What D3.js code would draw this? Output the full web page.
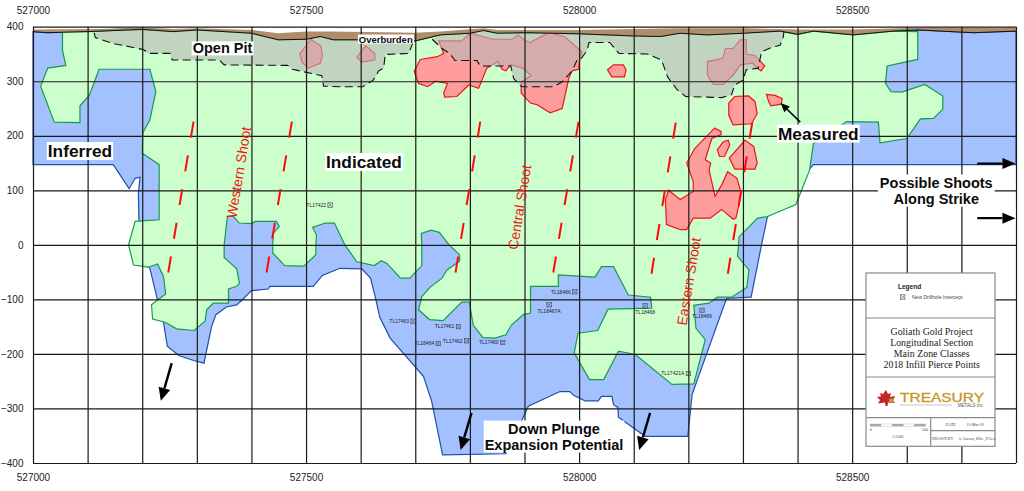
<!DOCTYPE html>
<html>
<head>
<meta charset="utf-8">
<script src="https://d3js.org/d3.v7.min.js"></script>
<style>
  body { margin: 0; background: #fff; }
  svg { display: block; font-family: "Liberation Sans", Arial, sans-serif; }
  .axis-label text { font-size: 10px; fill: #222; }
  .axis-label path, .axis-label line { display: none; }
</style>
</head>
<body>
<div id="chart"></div>
<script>
const xTickLabels = [527000, 527500, 528000, 528500];
const yTickLabels = [400, 300, 200, 100, 0, -100, -200, -300, -400];
const xGridValues = [527000, 527100, 527200, 527300, 527400, 527500, 527600, 527700, 527800, 527900,
    528000, 528100, 528200, 528300, 528400, 528500, 528600, 528700, 528800];

// Top of overburden and the bedrock surface under it
const overburdenTop = [[527000,395],[527123,396],[527200,399],[527257,396],[527300,397],[527400,394],[527449,388],
    [527500,391],[527550,391],[527700,389],[527746,391],[527825,397],[527850,394],[528000,394],[528185,397],
    [528301,397],[528400,395],[528502,395],[528621,398],[528800,398]];
const surface = [[527000,391],[527025,389],[527100,391],[527200,395],[527257,391],[527300,394],[527400,388],[527449,376],
    [527500,377],[527526,382],[527550,376],[527593,376],[527700,374],[527746,385],[527800,388],[527825,393],[527850,388],
    [527901,389],[528000,387],[528100,383],[528149,382],[528185,388],[528234,385],[528301,388],[528368,392],[528400,386],
    [528429,392],[528502,385],[528575,392],[528621,394],[528722,389],[528800,392]];

// Inferred: lower boundary only, the top is closed along the surface
const inferredEdge = [[527000,147],[527147,147],[527176,103],[527187,122],[527196,124],[527193,95],[527194,43],[527211,-41],
    [527214,-43],[527228,-101],[527239,-143],[527246,-186],[527267,-203],[527294,-212],[527313,-217],[527327,-150],
    [527335,-128],[527354,-114],[527373,-110],[527382,-102],[527400,-84],[527431,-81],[527434,-76],[527513,-76],[527530,-56],
    [527562,-43],[527602,-44],[527618,-61],[527628,-101],[527635,-133],[527654,-171],[527715,-241],[527730,-287],[527750,-385],
    [527866,-383],[527895,-322],[527907,-296],[527965,-269],[527983,-269],[527990,-276],[528011,-286],[528035,-286],
    [528041,-278],[528060,-278],[528063,-293],[528071,-298],[528072,-316],[528121,-351],[528199,-351],[528207,-274],
    [528270,-98],[528315,-96],[528334,0],[528345,52],[528429,147],[528800,147]];

// Indicated: same idea
const indicatedEdge = [[527054,391],[527054,357],[527060,329],[527027,324],[527014,291],[527039,225],[527086,224],[527086,255],
    [527103,274],[527121,322],[527214,322],[527225,281],[527214,229],[527201,205],[527200,168],[527231,147],[527231,46],
    [527187,43],[527175,0],[527184,-37],[527211,-41],[527228,-35],[527239,-58],[527243,-90],[527228,-101],[527217,-110],
    [527219,-136],[527242,-142],[527263,-154],[527295,-157],[527315,-140],[527318,-119],[527330,-107],[527358,-107],
    [527358,-81],[527373,-76],[527378,-70],[527373,-44],[527350,-23],[527350,0],[527356,52],[527367,52],[527378,40],
    [527400,39],[527407,43],[527446,43],[527451,34],[527440,21],[527439,0],[527439,-15],[527461,-38],[527496,-39],
    [527518,-18],[527518,0],[527519,18],[527512,32],[527535,40],[527552,40],[527571,0],[527593,-31],[527625,-38],
    [527638,-29],[527648,-34],[527673,-61],[527690,-61],[527712,-38],[527712,0],[527711,21],[527729,27],[527744,23],
    [527762,0],[527781,-18],[527781,-30],[527758,-46],[527749,-61],[527727,-78],[527712,-95],[527706,-119],[527726,-137],
    [527751,-139],[527785,-105],[527799,-105],[527806,-147],[527824,-170],[527846,-171],[527866,-165],[527876,-147],
    [527898,-128],[527911,-125],[527911,-76],[527962,-76],[527962,-55],[528029,-59],[528041,-40],[528063,-40],[528090,-92],
    [528131,-96],[528133,-116],[528053,-118],[528034,-157],[527998,-162],[527991,-198],[528019,-247],[528045,-247],
    [528072,-195],[528103,-201],[528170,-256],[528210,-255],[528231,-174],[528214,-153],[528210,-111],[528238,-107],
    [528253,-96],[528279,-96],[528307,-78],[528311,-46],[528290,-21],[528292,0],[528293,15],[528327,49],[528345,52],
    [528397,74],[528422,137],[528429,186],[528490,226],[528548,225],[528551,187],[528600,195],[528625,231],[528649,232],
    [528666,249],[528666,273],[528633,294],[528591,280],[528571,281],[528561,296],[528564,328],[528620,340],[528620,391]];

// Measured blocks
const measuredBlocks = [
    [[527509,377],[527527,365],[527530,348],[527526,333],[527504,324],[527492,336],[527489,351]],
    [[527609,365],[527626,351],[527626,339],[527602,335],[527593,344]],
    [[527743,374],[527785,374],[527801,388],[527841,377],[527877,377],[527888,385],[527902,374],[527910,371],[527944,389],
     [527973,382],[528005,354],[528001,339],[527999,322],[527987,319],[527981,305],[527969,250],[527947,242],[527923,257],
     [527911,260],[527894,278],[527894,299],[527912,310],[527897,324],[527875,330],[527866,319],[527859,322],[527851,336],
     [527831,324],[527816,287],[527798,293],[527776,272],[527754,271],[527752,279],[527759,296],[527737,300],[527723,290],
     [527706,296],[527698,318],[527709,340],[527740,345],[527752,351]],
    [[528052,321],[528063,330],[528081,330],[528086,321],[528083,308],[528060,308]],
    [[528295,376],[528306,376],[528306,350],[528322,347],[528340,328],[528333,319],[528326,324],[528318,333],[528295,330],
     [528282,311],[528264,294],[528246,294],[528235,311],[528235,336],[528263,342],[528268,360],[528282,360]],
    [[528285,272],[528310,273],[528322,263],[528326,241],[528316,222],[528282,220],[528274,238],[528274,260]],
    [[528343,276],[528359,274],[528372,268],[528370,258],[528351,255],[528347,263]],
    [[528264,189],[528273,192],[528276,183],[528266,162],[528257,162],[528253,174]],
    [[528304,192],[528320,180],[528326,150],[528322,139],[528285,139],[528275,159]],
    [[528248,214],[528260,208],[528260,202],[528243,195],[528231,156],[528241,150],[528238,137],[528249,89],[528261,110],
     [528272,134],[528289,122],[528296,98],[528292,70],[528287,49],[528282,47],[528261,65],[528240,49],[528209,49],[528197,28],
     [528185,28],[528160,37],[528158,83],[528164,100],[528185,83],[528209,98],[528209,116],[528197,150],[528212,177]]
];

// Open pit floors (dashed), closed along the surface
const pitWest = [[527112,389],[527114,380],[527147,369],[527184,362],[527202,358],[527212,351],[527251,351],[527255,339],
    [527341,339],[527350,330],[527466,329],[527475,322],[527529,310],[527532,291],[527562,290],[527604,290],[527623,302],
    [527633,319],[527642,324],[527645,349],[527688,351],[527697,374]];
const pitEast = [[527731,377],[527749,360],[527763,351],[527773,338],[527813,338],[527819,328],[527875,328],[527880,305],
    [527895,290],[527953,290],[527969,299],[527987,319],[527996,338],[528002,339],[528015,357],[528018,371],[528056,371],
    [528073,351],[528125,350],[528151,339],[528162,308],[528179,285],[528195,272],[528261,270],[528279,275],[528285,293],
    [528300,302],[528306,321],[528328,324],[528334,354],[528353,362],[528368,366],[528374,382],[528375,391]];

// Shoot axes, top and bottom of each dashed line
const shootAxes = [
    [[527294,226],[527247,-55]],
    [[527474,226],[527427,-55]],
    [[527819,226],[527773,-55]],
    [[527999,226],[527952,-55]],
    [[528177,224],[528132,-56]],
    [[528317,224],[528272,-55]]
];

// Drillhole pierce points
const holeNames = ["TL17422","TL17463","TL17461","TL18464","TL17462","TL17460","TL18466","TL18467A","TL18468","TL18469","TL17421A"];
const holeX = [527544,527696,527779,527742,527794,527860,527992,527945,528121,528225,528200];
const holeY = [73,-140,-150,-181,-176,-179,-86,-110,-112,-120,-236];
const holesLabelledBelow = ["TL18467A","TL18468","TL18469"];

const titleLines = ["Goliath Gold Project", "Longitudinal Section", "Main Zone Classes", "2018 Infill Pierce Points"];

// Scales
const width = 1024, height = 491;
const x = d3.scaleLinear().domain([527000, 528800]).range([33, 1016]);
const y = d3.scaleLinear().domain([400, -400]).range([26.7, 463]);

const svg = d3.select("#chart").append("svg").attr("width", width).attr("height", height);

const line = d3.line().x(d => x(d[0])).y(d => y(d[1]));
const closed = d3.line().x(d => x(d[0])).y(d => y(d[1])).curve(d3.curveLinearClosed);

// Surface points between two eastings, right to left, for closing the tops
const surfaceBack = (from, to) => surface.filter(d => d[0] >= from && d[0] <= to).reverse();

// Inferred
svg.append("path")
    .attr("d", closed(inferredEdge.concat(surfaceBack(527000, 528800))))
    .attr("fill", "#a3c0ff").attr("stroke", "#1f4fa8").attr("stroke-width", 1.2);

// Indicated
svg.append("path")
    .attr("d", closed(indicatedEdge.concat(surfaceBack(527055, 528619))))
    .attr("fill", "#ccffcc").attr("stroke", "#149c4a").attr("stroke-width", 1.2);

// Measured
svg.selectAll(".measured").data(measuredBlocks).enter().append("path")
    .attr("class", "measured")
    .attr("d", d => closed(d))
    .attr("fill", "#ff9c9c").attr("stroke", "#f01414").attr("stroke-width", 1.2);

// Pits sit on top of the blocks and wash them out
[pitWest, pitEast].forEach(floor => {
    const from = floor[0][0], to = floor[floor.length - 1][0];
    svg.append("path")
        .attr("d", closed(floor.concat(surfaceBack(from, to))))
        .attr("fill", "#b7b7b7").attr("fill-opacity", 0.6);
    svg.append("path")
        .attr("d", line(floor))
        .attr("fill", "none").attr("stroke", "#111").attr("stroke-width", 1.1)
        .attr("stroke-dasharray", "8 4.5");
});

// Overburden strip
svg.append("path")
    .attr("d", closed(overburdenTop.concat(surface.slice().reverse())))
    .attr("fill", "#b08c68");
svg.append("path").attr("d", line(surface))
    .attr("fill", "none").attr("stroke", "#111").attr("stroke-width", 1);

// Grid, drawn as long axis ticks
const gridX = d3.axisBottom(x).tickValues(xGridValues).tickSize(y(-400) - y(400)).tickFormat("");
const gridY = d3.axisLeft(y).tickValues(yTickLabels).tickSize(x(528800) - x(527000)).tickFormat("");
svg.append("g").attr("transform", `translate(0,${y(400)})`).call(gridX)
    .call(g => g.select(".domain").remove())
    .selectAll("line").attr("stroke", "#1a1a1a").attr("stroke-width", 1.2);
svg.append("g").attr("transform", `translate(${x(528800)},0)`).call(gridY)
    .call(g => g.select(".domain").remove())
    .selectAll("line").attr("stroke", "#1a1a1a").attr("stroke-width", 1.2);

// Axis labels
const xLabels = d3.axisTop(x).tickValues(xTickLabels).tickSize(0).tickPadding(0).tickFormat(d3.format("d"));
svg.append("g").attr("class", "axis-label").attr("transform", "translate(0,11)").call(xLabels)
    .selectAll("text").attr("dy", "0.32em");
svg.append("g").attr("class", "axis-label").attr("transform", "translate(0,478)").call(xLabels)
    .selectAll("text").attr("dy", "0.32em");
svg.append("g").attr("class", "axis-label").attr("transform", "translate(23.5,0)")
    .call(d3.axisLeft(y).tickValues(yTickLabels).tickSize(0).tickPadding(0).tickFormat(d3.format("d")));

// Shoot axes
svg.selectAll(".shoot").data(shootAxes).enter().append("path")
    .attr("class", "shoot")
    .attr("d", d => line(d))
    .attr("stroke", "#ff0a0a").attr("stroke-width", 2).attr("stroke-dasharray", "16.2 18");

const shootLabel = (text, px, py) => svg.append("text")
    .attr("transform", `translate(${px},${py}) rotate(-80.7)`)
    .attr("text-anchor", "middle").attr("dy", "0.35em")
    .attr("font-size", 14).attr("fill", "#f01414")
    .text(text);
shootLabel("Western Shoot", x(527377), y(133));
shootLabel("Central Shoot", x(527891), y(69));
shootLabel("Eastern Shoot", x(528201), y(-67));

// Drillholes
function holeMarker(g, px, py) {
    const s = 2.2;
    g.append("rect").attr("x", px - s).attr("y", py - s).attr("width", 2 * s).attr("height", 2 * s)
        .attr("fill", "none").attr("stroke", "#333").attr("stroke-width", 0.5);
    g.append("path").attr("d", `M${px - s},${py - s}L${px + s},${py + s}M${px + s},${py - s}L${px - s},${py + s}`)
        .attr("stroke", "#333").attr("stroke-width", 0.5);
}
const holes = svg.append("g");
holeNames.forEach((name, i) => {
    const px = x(holeX[i]), py = y(holeY[i]);
    holeMarker(holes, px, py);
    const below = holesLabelledBelow.includes(name);
    holes.append("text")
        .attr("x", below ? px : px - 4)
        .attr("y", below ? py + 8 : py + 1.8)
        .attr("text-anchor", below ? "middle" : "end")
        .attr("font-size", 5).attr("fill", "#222")
        .text(name);
});

// Bold labels on white boxes
function boxedLabel(lines, px, py, size, lineGap, padX, padY) {
    const g = svg.append("g");
    const box = g.append("rect").attr("fill", "#fff");
    const t = g.append("text").attr("font-weight", "bold").attr("font-size", size)
        .attr("fill", "#0b0b0b").attr("text-anchor", "middle");
    lines.forEach((s, i) => t.append("tspan").attr("x", px).attr("y", py + i * lineGap).text(s));
    const b = t.node().getBBox();
    box.attr("x", b.x - padX).attr("y", b.y - padY).attr("width", b.width + 2 * padX).attr("height", b.height + 2 * padY);
}
boxedLabel(["Open Pit"], x(527347), y(351), 14.5, 0, 1, -1);
boxedLabel(["Overburden"], x(527646), y(371), 9.5, 0, 1, -1);
boxedLabel(["Inferred"], x(527086), y(161), 17.3, 0, 1, -1);
boxedLabel(["Indicated"], x(527606), y(141), 17.3, 0, 1, -1);
boxedLabel(["Measured"], x(528438), y(193), 17.3, 0, 1, -1);
boxedLabel(["Possible Shoots", "Along Strike"], x(528654), y(105), 14.5, 16, 2, 0);
boxedLabel(["Down Plunge", "Expansion Potential"], x(527954), y(-346), 14.5, 16, 1, 0);

// Arrows
function arrow(x0, y0, x1, y1, w, headLen, headW) {
    const a = Math.atan2(y(y1) - y(y0), x(x1) - x(x0));
    const ex = x(x1), ey = y(y1);
    const bx = ex - headLen * Math.cos(a), by = ey - headLen * Math.sin(a);
    const nx = -Math.sin(a) * headW / 2, ny = Math.cos(a) * headW / 2;
    svg.append("line").attr("x1", x(x0)).attr("y1", y(y0)).attr("x2", bx).attr("y2", by)
        .attr("stroke", "#000").attr("stroke-width", w);
    svg.append("polygon")
        .attr("points", `${ex},${ey} ${bx + nx},${by + ny} ${bx - nx},${by - ny}`)
        .attr("fill", "#000");
}
arrow(528405, 225, 528369, 260, 1.5, 9, 8);
arrow(528729, 149, 528799, 149, 2.2, 13, 11);
arrow(528729, 49, 528799, 49, 2.2, 13, 11);
arrow(527254, -217, 527234, -286, 2.4, 13, 12);
arrow(527803, -308, 527783, -376, 2.4, 13, 12);
arrow(528130, -308, 528110, -376, 2.4, 13, 12);

// Title block in the lower right corner
const block = svg.append("g");
block.append("rect").attr("x", 866).attr("y", 273).attr("width", 129).attr("height", 173.3)
    .attr("fill", "#fff").attr("stroke", "#8a8a8a").attr("stroke-width", 1.2);
[[866, 318, 995, 318], [866, 377, 995, 377], [866, 417.7, 995, 417.7], [930.7, 417.7, 930.7, 446.3], [930.7, 430.7, 995, 430.7]]
    .forEach(l => block.append("line")
        .attr("x1", l[0]).attr("y1", l[1]).attr("x2", l[2]).attr("y2", l[3])
        .attr("stroke", "#8a8a8a").attr("stroke-width", 1.2));

block.append("text").attr("x", 898).attr("y", 289).attr("font-size", 6.5).attr("font-weight", "bold").attr("fill", "#222").text("Legend");
holeMarker(block, 902.7, 297);
block.append("text").attr("x", 912).attr("y", 299).attr("font-size", 5).attr("fill", "#444").text("New Drillhole Intercept");

block.selectAll(".title").data(titleLines).enter().append("text")
    .attr("class", "title")
    .attr("x", 931.7).attr("y", (d, i) => 335 + i * 10.85)
    .attr("text-anchor", "middle")
    .attr("font-family", "'Liberation Serif', serif").attr("font-size", 9.9).attr("fill", "#222")
    .text(d => d);

// Logo: leaf with the gold corner, then the name
block.append("path")
    .attr("d", "M886,390 L888,394 L891,393 L890,397 L895,396 L893,400 L895,403 L888,402.5 L887.5,406 L885.5,406 L885,402.5 L878,403.5 L880,400 L877,397 L881,396.5 L880,393 L883,394 Z")
    .attr("fill", "#c2262e");
block.append("path").attr("d", "M889,398.5 L895,398.5 L893,400.5 L895,402.5 L889,402.5 Z").attr("fill", "#c8962a");
block.append("text").attr("x", 900).attr("y", 401.5)
    .attr("font-size", 13).attr("fill", "#c8962a").attr("stroke", "#c8962a").attr("stroke-width", 0.3)
    .attr("textLength", 84).attr("lengthAdjust", "spacingAndGlyphs")
    .text("TREASURY");
block.append("line").attr("x1", 900).attr("y1", 405).attr("x2", 952).attr("y2", 405).attr("stroke", "#aaa").attr("stroke-width", 0.7);
block.append("text").attr("x", 984).attr("y", 407).attr("text-anchor", "end").attr("font-size", 4.5).attr("fill", "#555").text("METALS Inc.");

// Scale bar
[0, 1, 2, 3, 4].forEach(i => block.append("rect")
    .attr("x", 870 + i * 11.1).attr("y", 424).attr("width", 11.1).attr("height", 2.2)
    .attr("fill", i % 2 ? "#fff" : "#aaa").attr("stroke", "#999").attr("stroke-width", 0.3));
const small = (text, px, py, anchor) => block.append("text")
    .attr("x", px).attr("y", py).attr("text-anchor", anchor || "middle")
    .attr("font-family", "'Liberation Serif', serif").attr("font-size", 4).attr("fill", "#444").text(text);
small("0", 870.7, 431);
small("500", 925, 431);
small("1:2500", 897.7, 437.5);
small("DATE", 950.7, 425.5);
small("15-Mar-18", 975, 425.5);
small("DRAWN BY", 942.7, 439.5);
small("A. Larsen, BSc., P.Geo", 976.7, 439.5);
</script>
</body>
</html>
